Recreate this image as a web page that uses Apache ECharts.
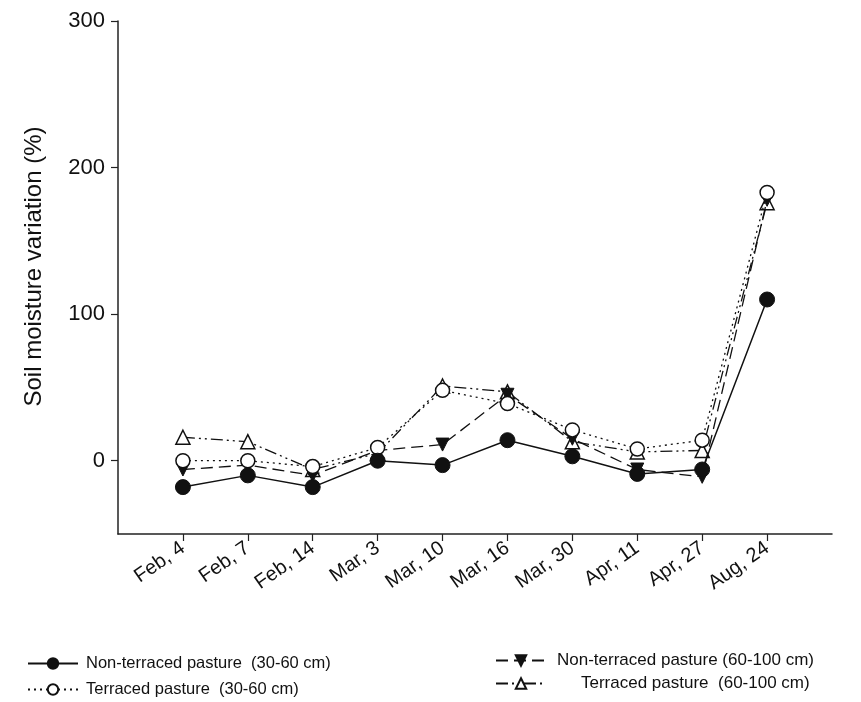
<!DOCTYPE html>
<html>
<head>
<meta charset="utf-8">
<script src="https://cdn.jsdelivr.net/npm/echarts@6/dist/echarts.min.js"></script>
<style>
html,body{margin:0;padding:0;background:#fff;}
#chart{width:861px;height:702px;}
</style>
</head>
<body>
<div id="chart"></div>
<script>
const categories = ['Feb, 4','Feb, 7','Feb, 14','Mar, 3','Mar, 10','Mar, 16','Mar, 30','Apr, 11','Apr, 27','Aug, 24'];
const nonTerraced30 = [-18, -10, -18, 0, -3, 14, 3, -9, -6, 110];
const nonTerraced60 = [-6, -3, -10, 7, 11, 45, 15, -6, -11, 178];
const terraced30 = [0, 0, -4, 9, 48, 39, 21, 8, 14, 183];
const terraced60 = [16, 13, -6, 5, 51, 47, 13, 6, 7, 176];
const yTicks = [0, 100, 200, 300];
const seriesNames = ['Non-terraced pasture  (30-60 cm)', 'Terraced pasture  (30-60 cm)', 'Non-terraced pasture (60-100 cm)', 'Terraced pasture  (60-100 cm)'];

const xPos = categories.map((c, i) => i + 1);
const toPairs = arr => arr.map((v, i) => [xPos[i], v]);
const FONT = '"Liberation Sans", Arial, sans-serif';

const chart = echarts.init(document.getElementById('chart'), null, {renderer: 'canvas'});
const legendText = {fontFamily: FONT, fontSize: 17, color: '#111'};
const legendBase = {
  orient: 'vertical', itemWidth: 50, itemHeight: 13, itemGap: 9,
  textStyle: legendText,
  padding: 0
};
chart.setOption({
  animation: false,
  backgroundColor: '#fff',
  grid: {left: 118, right: 29, top: 21, bottom: 168, containLabel: false},
  xAxis: {
    type: 'value', min: 0, max: 11, interval: 1,
    axisLine: {show: true, onZero: false, lineStyle: {color: '#222', width: 1.5}},
    axisTick: {show: true, inside: false, length: 7, lineStyle: {color: '#222', width: 1.2}, customValues: xPos},
    splitLine: {show: false},
    axisLabel: {
      customValues: xPos,
      formatter: v => categories[Math.round(v) - 1] || '',
      rotate: 35, margin: 12, fontFamily: FONT, fontSize: 20, color: '#111'
    }
  },
  yAxis: {
    type: 'value', min: -50, max: 300, interval: 50,
    name: 'Soil moisture variation (%)', nameLocation: 'middle', nameGap: 72,
    nameTextStyle: {fontFamily: FONT, fontSize: 24, color: '#111', padding: [0, 0, 0, 22]},
    axisLine: {show: true, onZero: false, lineStyle: {color: '#222', width: 1.5}},
    axisTick: {show: true, inside: false, length: 7, lineStyle: {color: '#222', width: 1.2}, customValues: yTicks},
    splitLine: {show: false},
    axisLabel: {customValues: yTicks, margin: 13, fontFamily: FONT, fontSize: 22, color: '#111'}
  },
  legend: [
    Object.assign({}, legendBase, {left: 27, top: 655, data: [seriesNames[0], seriesNames[1]], textStyle: Object.assign({}, legendText, {fontSize: 16.5, padding: [0, 0, 0, 3]})}),
    Object.assign({}, legendBase, {left: 495, top: 652, data: [seriesNames[2]], textStyle: Object.assign({}, legendText, {padding: [0, 0, 0, 6]})}),
    Object.assign({}, legendBase, {left: 495, top: 675, data: [seriesNames[3]], textStyle: Object.assign({}, legendText, {padding: [0, 0, 0, 30]})})
  ],
  series: [
    {
      name: seriesNames[3], type: 'line', data: toPairs(terraced60),
      symbol: 'triangle', symbolSize: 14,
      lineStyle: {color: '#111', width: 1.3, type: [12, 4, 2, 4, 2, 4]},
      itemStyle: {color: '#fff', borderColor: '#111', borderWidth: 1.5}, z: 2
    },
    {
      name: seriesNames[2], type: 'line', data: toPairs(nonTerraced60),
      symbol: 'triangle', symbolRotate: 180, symbolSize: 13,
      lineStyle: {color: '#111', width: 1.3, type: [12, 6]},
      itemStyle: {color: '#111', borderColor: '#111', borderWidth: 1}, z: 3
    },
    {
      name: seriesNames[1], type: 'line', data: toPairs(terraced30),
      symbol: 'circle', symbolSize: 14,
      lineStyle: {color: '#111', width: 1.3, type: [2, 4]},
      itemStyle: {color: '#fff', borderColor: '#111', borderWidth: 1.5}, z: 4
    },
    {
      name: seriesNames[0], type: 'line', data: toPairs(nonTerraced30),
      symbol: 'circle', symbolSize: 15,
      lineStyle: {color: '#111', width: 1.5, type: 'solid'},
      itemStyle: {color: '#111', borderColor: '#111', borderWidth: 1}, z: 5
    }
  ]
});
</script>
</body>
</html>
